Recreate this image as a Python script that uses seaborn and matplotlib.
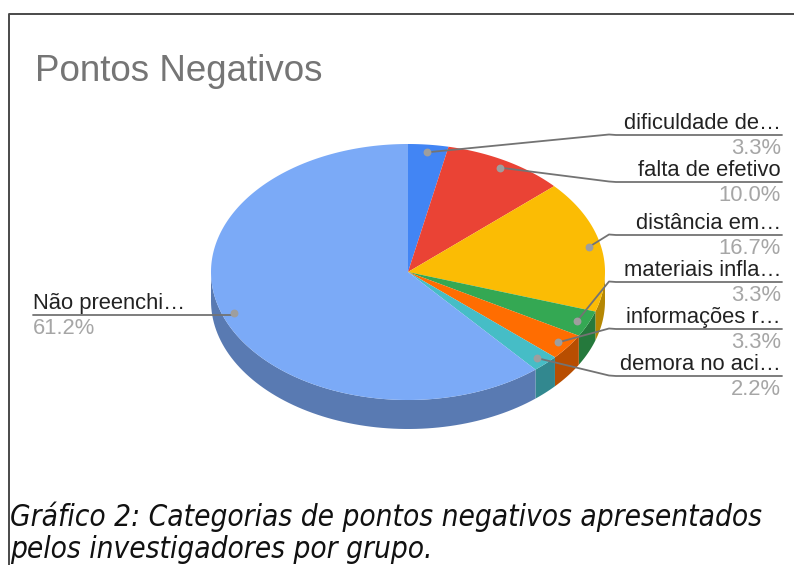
import numpy as np
import seaborn as sns
import matplotlib.pyplot as plt
from matplotlib.colors import to_rgb

# data
categorias = ["dificuldade de…", "falta de efetivo", "distância em…", "materiais infla…",
              "informações r…", "demora no aci…", "Não preenchi…"]
percentuais = [3.3, 10.0, 16.7, 3.3, 3.3, 2.2, 61.2]
cores = ["#4285F4", "#EA4335", "#FBBC04", "#34A853", "#FF6D01", "#46BDC6", "#7BAAF7"]

sns.set_theme(style="white")
plt.rcParams['font.family'] = ['Liberation Sans', 'DejaVu Sans']

fig = plt.figure(figsize=(7.94, 5.65), dpi=100)
ax = fig.add_axes([0, 0, 1, 1])
ax.set_xlim(0, 794)
ax.set_ylim(565, 0)
ax.axis('off')

# pie geometry (pixels)
cx, cy, rx, ry, depth = 408, 272, 197, 128, 29

def ponto(t, r=1.0, dy=0.0):
    return cx + r * rx * np.sin(t), cy - r * ry * np.cos(t) + dy

vals = np.array(percentuais)
limites = np.concatenate([[0], np.cumsum(vals) / vals.sum()]) * 2 * np.pi

# side walls (front half only)
for i, cor in enumerate(cores):
    a, b = max(limites[i], np.pi / 2), min(limites[i + 1], 3 * np.pi / 2)
    if a >= b:
        continue
    t = np.linspace(a, b, 80)
    x1, y1 = ponto(t)
    x2, y2 = ponto(t[::-1], dy=depth)
    escuro = tuple(np.array(to_rgb(cor)) * 0.72)
    ax.fill(np.concatenate([x1, x2]), np.concatenate([y1, y2]), color=escuro, lw=0, zorder=1)

# top surface
for i, cor in enumerate(cores):
    t = np.linspace(limites[i], limites[i + 1], 200)
    x, y = ponto(t)
    ax.fill(np.concatenate([[cx], x]), np.concatenate([[cy], y]), color=cor, lw=0, zorder=2)

# labels
label_y = [135, 182, 235, 282, 329, 376]
cinza_linha = "#737373"
fs = 15.8
for i, nome in enumerate(categorias):
    meio = (limites[i] + limites[i + 1]) / 2
    px, py = ponto(meio, r=0.94)
    ax.scatter([px], [py], s=32, color="#9e9e9e", zorder=4, lw=0)
    pct = f"{percentuais[i]:.1f}%"
    if i < len(label_y):
        ly = label_y[i]
        ax.plot([px, 609, 616, 782], [py, ly - 0.5, ly, ly], color=cinza_linha, lw=1.3, zorder=3)
        ax.text(781, ly - 6, nome, ha='right', va='baseline', fontsize=fs, color="#222222")
        ax.text(781, ly + 19, pct, ha='right', va='baseline', fontsize=fs, color="#a6a6a6")
    else:
        ly = py + 2
        ax.plot([33, px], [ly, ly], color=cinza_linha, lw=1.3, zorder=3)
        ax.text(33, ly - 6, nome, ha='left', va='baseline', fontsize=fs, color="#222222")
        ax.text(33, ly + 19, pct, ha='left', va='baseline', fontsize=fs, color="#a6a6a6")

ax.text(35, 81, "Pontos Negativos", ha='left', va='baseline', fontsize=26.5, color="#757575")

# frame
ax.plot([8.5, 8.5, 794], [565, 13.5, 13.5], color="#4a4a4a", lw=1.4, clip_on=False)

# caption
ax.text(10, 526, "Gráfico 2: Categorias de pontos negativos apresentados",
        ha='left', va='baseline', fontsize=21.3, style='italic',
        family='DejaVu Sans', fontstretch='condensed', color="#111111")
ax.text(10, 558, "pelos investigadores por grupo.",
        ha='left', va='baseline', fontsize=21.3, style='italic',
        family='DejaVu Sans', fontstretch='condensed', color="#111111")

fig.savefig("out.png", dpi=100)
